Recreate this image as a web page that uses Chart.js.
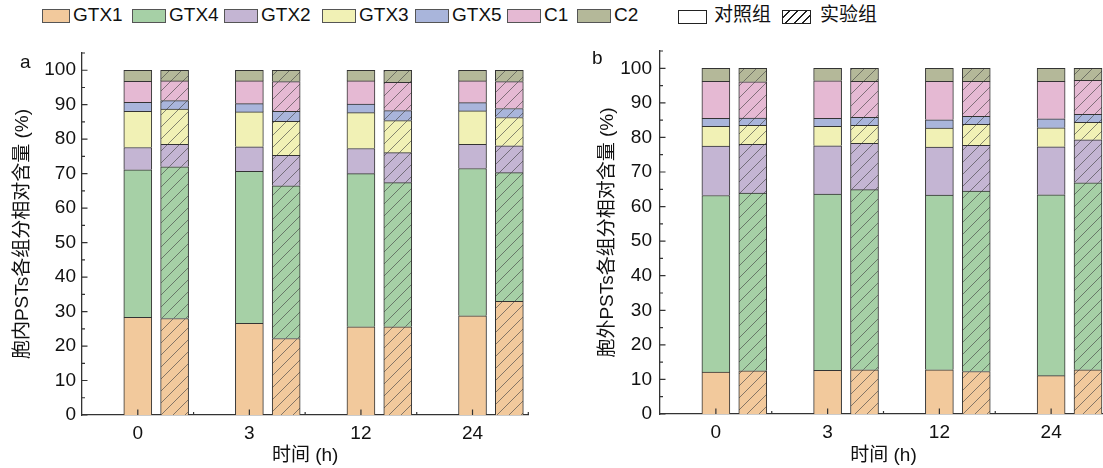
<!DOCTYPE html>
<html>
<head>
<meta charset="utf-8">
<script src="https://cdn.jsdelivr.net/npm/chart.js@4.4.0/dist/chart.umd.min.js"></script>
<style>
  html, body { margin: 0; padding: 0; background: #fff; }
  body {
    width: 1103px; height: 468px; overflow: hidden; position: relative;
    font-family: "Liberation Sans", Arial, "Noto Sans CJK SC", sans-serif; color: #111;
  }
  canvas { position: absolute; top: 0; }
  .sw { position: absolute; top: 9px; height: 14px; box-sizing: border-box; border: 1px solid #555; }
  .tx { position: absolute; top: 4px; font-size: 19px; line-height: 22px; white-space: nowrap; }
  .panel { position: absolute; font-size: 19px; line-height: 22px; }
</style>
</head>
<body>
<div id="legend"></div>
<canvas id="chartA" width="550" height="468" style="left:0"></canvas>
<canvas id="chartB" width="530" height="468" style="left:585px"></canvas>
<div class="panel" style="left:20px;top:51px">a</div>
<div class="panel" style="left:592px;top:47px">b</div>

<script>
// Sampling times (h) and PST components
const timeLabels = ['0', '3', '12', '24'];
const seriesNames = ['GTX1', 'GTX4', 'GTX2', 'GTX3', 'GTX5', 'C1', 'C2'];
const seriesColors = ['#f2c99c', '#a6d0a6', '#c4b5d3', '#f1f1b5', '#a9b5db', '#e5b9d3', '#b4b899'];
const yTicks = [0, 10, 20, 30, 40, 50, 60, 70, 80, 90, 100];

// 胞内 (intracellular), 对照组 — one value per sampling time
const inCtlGTX1 = [28.3, 26.6, 25.6, 28.8];
const inCtlGTX4 = [42.8, 44.1, 44.4, 42.7];
const inCtlGTX2 = [6.5, 7.1, 7.3, 7.0];
const inCtlGTX3 = [10.5, 10.1, 10.4, 9.7];
const inCtlGTX5 = [2.6, 2.4, 2.5, 2.4];
const inCtlC1   = [6.1, 6.6, 6.7, 6.3];
const inCtlC2   = [3.2, 3.1, 3.1, 3.1];

// 胞内, 实验组
const inExpGTX1 = [28.0, 22.2, 25.6, 33.0];
const inExpGTX4 = [44.0, 44.3, 41.8, 37.3];
const inExpGTX2 = [6.5, 8.8, 8.7, 7.8];
const inExpGTX3 = [10.2, 9.9, 9.3, 8.2];
const inExpGTX5 = [2.5, 2.9, 2.9, 2.6];
const inExpC1   = [5.7, 8.6, 8.2, 7.8];
const inExpC2   = [3.1, 3.3, 3.5, 3.3];

// 胞外 (extracellular), 对照组
const exCtlGTX1 = [12.1, 12.6, 12.8, 11.1];
const exCtlGTX4 = [51.1, 51.0, 50.5, 52.3];
const exCtlGTX2 = [14.3, 14.0, 13.9, 13.9];
const exCtlGTX3 = [5.7, 5.6, 5.5, 5.5];
const exCtlGTX5 = [2.3, 2.3, 2.4, 2.6];
const exCtlC1   = [10.7, 10.9, 11.1, 10.8];
const exCtlC2   = [3.8, 3.6, 3.8, 3.8];

// 胞外, 实验组
const exExpGTX1 = [12.5, 12.8, 12.3, 12.8];
const exExpGTX4 = [51.4, 52.1, 52.2, 54.1];
const exExpGTX2 = [14.1, 13.4, 13.2, 12.4];
const exExpGTX3 = [5.5, 5.2, 6.1, 5.1];
const exExpGTX5 = [2.1, 2.3, 2.3, 2.3];
const exExpC1   = [10.5, 10.4, 10.1, 9.8];
const exExpC2   = [3.9, 3.8, 3.8, 3.5];

// experimental bar sits just right of its control bar
const EXP_SHIFT = 0.33;

Chart.defaults.font.family = '"Liberation Sans", Arial, "Noto Sans CJK SC", sans-serif';
Chart.defaults.font.size = 19;
Chart.defaults.color = '#111';

function hatch(color) {
  const s = 12;
  const c = document.createElement('canvas');
  c.width = s; c.height = s;
  const g = c.getContext('2d');
  g.fillStyle = color;
  g.fillRect(0, 0, s, s);
  g.strokeStyle = 'rgba(70,70,70,0.8)';
  g.lineWidth = 0.8;
  g.beginPath();
  g.moveTo(0, s); g.lineTo(s, 0);
  g.moveTo(-s / 2, s / 2); g.lineTo(s / 2, -s / 2);
  g.moveTo(s / 2, s * 1.5); g.lineTo(s * 1.5, s / 2);
  g.stroke();
  return g.createPattern(c, 'repeat');
}
const seriesPatterns = seriesColors.map(hatch);

// legend row (series swatches, then group keys)
const legendLefts = [42, 132, 224, 322, 415, 507, 577];
const legendWidths = [28, 34, 34, 34, 34, 34, 34];
(function buildLegend() {
  const box = document.getElementById('legend');
  let html = '';
  seriesNames.forEach((name, k) => {
    const l = legendLefts[k], w = legendWidths[k];
    html += `<div class="sw" style="left:${l}px;width:${w}px;background:${seriesColors[k]}"></div>`;
    html += `<div class="tx" style="left:${l + w + 3}px">${name}</div>`;
  });
  html += `<div class="sw" style="left:678px;width:29px;top:10px;border-color:#222;background:#fff"></div>`;
  html += `<div class="tx" style="left:714px">对照组</div>`;
  html += `<div class="sw" style="left:782px;width:29px;top:10px;border-color:#222;background:repeating-linear-gradient(-45deg,#fff 0 4.5px,#222 4.5px 6px)"></div>`;
  html += `<div class="tx" style="left:820px">实验组</div>`;
  box.innerHTML = html;
})();

// inward major/minor tick marks on both axes
const innerTicks = {
  id: 'innerTicks',
  afterDraw(chart) {
    const { ctx, scales: { x, y } } = chart;
    const x0 = x.left, y0 = y.bottom;
    ctx.save();
    ctx.strokeStyle = '#333';
    ctx.lineWidth = 1.2;
    ctx.beginPath();
    y.ticks.forEach((t, i) => {
      const p = y.getPixelForValue(t.value);
      ctx.moveTo(x0, p); ctx.lineTo(x0 + 5.5, p);
      const m = y.getPixelForValue(t.value + 5);
      if (t.value + 5 <= y.max) { ctx.moveTo(x0, m); ctx.lineTo(x0 + 3, m); }
    });
    x.ticks.forEach(t => {
      const p = x.getPixelForValue(t.value);
      ctx.moveTo(p, y0); ctx.lineTo(p, y0 - 5.5);
      const m = x.getPixelForValue(t.value + 0.5);
      ctx.moveTo(m, y0); ctx.lineTo(m, y0 - 3);
    });
    ctx.stroke();
    ctx.restore();
  }
};

function buildDatasets(ctl, exp) {
  return seriesNames.map((name, k) => ({
    label: name,
    data: timeLabels.flatMap((_, i) => [
      { x: i + 1, y: ctl[k][i] },
      { x: i + 1 + EXP_SHIFT, y: exp[k][i] }
    ]),
    backgroundColor: timeLabels.flatMap(() => [seriesColors[k], seriesPatterns[k]]),
    borderColor: '#333',
    borderWidth: 1,
    barThickness: 28
  }));
}

function makeChart(id, ctl, exp, yTitle, geo) {
  return new Chart(document.getElementById(id), {
    type: 'bar',
    data: { datasets: buildDatasets(ctl, exp) },
    options: {
      responsive: false,
      animation: false,
      devicePixelRatio: 1,
      layout: { padding: { top: geo.top, right: geo.right, left: 0, bottom: 0 } },
      plugins: { legend: { display: false }, tooltip: { enabled: false } },
      scales: {
        x: {
          type: 'linear', min: 0.5, max: 4.5, offset: false, stacked: true,
          afterBuildTicks: s => { s.ticks = timeLabels.map((_, i) => ({ value: i + 1 })); },
          ticks: { callback: v => timeLabels[v - 1], padding: 7, maxRotation: 0, autoSkip: false },
          grid: { display: false, drawTicks: false },
          border: { display: true, color: '#333', width: 1.3 },
          title: { display: true, text: '时间 (h)', padding: { top: 0, bottom: 1 } },
          afterFit: s => { s.height = geo.xh; }
        },
        y: {
          type: 'linear', min: 0, max: 105, stacked: true, bounds: 'data',
          afterBuildTicks: s => { s.ticks = yTicks.map(v => ({ value: v })); },
          ticks: { padding: geo.ypad },
          grid: { display: false, drawTicks: false },
          border: { display: true, color: '#333', width: 1.3 },
          title: { display: true, text: yTitle, padding: { top: 11.6, bottom: 0 } },
          afterFit: s => { s.width = geo.yw; }
        }
      }
    },
    plugins: [innerTicks]
  });
}

makeChart('chartA',
  [inCtlGTX1, inCtlGTX4, inCtlGTX2, inCtlGTX3, inCtlGTX5, inCtlC1, inCtlC2],
  [inExpGTX1, inExpGTX4, inExpGTX2, inExpGTX3, inExpGTX5, inExpC1, inExpC2],
  '胞内PSTs各组分相对含量 (%)',
  { top: 53, right: 21.7, xh: 53, yw: 82, ypad: 6 });

makeChart('chartB',
  [exCtlGTX1, exCtlGTX4, exCtlGTX2, exCtlGTX3, exCtlGTX5, exCtlC1, exCtlC2],
  [exExpGTX1, exExpGTX4, exExpGTX2, exExpGTX3, exExpGTX5, exExpC1, exExpC2],
  '胞外PSTs各组分相对含量 (%)',
  { top: 51, right: 8, xh: 54, yw: 75, ypad: 8 });
</script>
</body>
</html>
